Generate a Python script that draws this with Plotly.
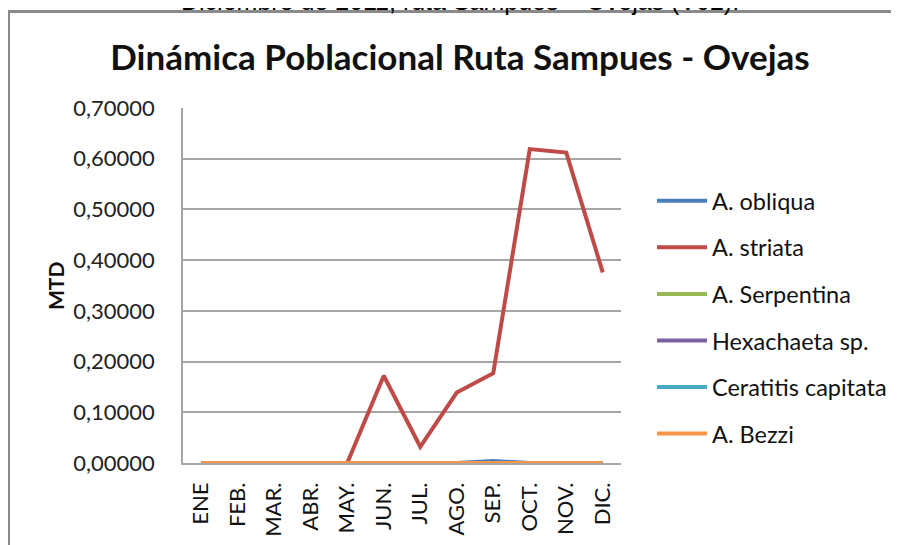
import plotly.graph_objects as go

months = ["ENE", "FEB.", "MAR.", "ABR.", "MAY.", "JUN.", "JUL.", "AGO.", "SEP.", "OCT.", "NOV.", "DIC."]
a_obliqua = [0, 0, 0, 0, 0, 0, 0, 0, 0.004, 0, 0, 0]
a_striata = [0, 0, 0, 0, 0, 0.172, 0.032, 0.139, 0.177, 0.619, 0.612, 0.376]
a_serpentina = [0, 0, 0, 0, 0, 0, 0, 0, 0, 0, 0, 0]
hexachaeta = [0, 0, 0, 0, 0, 0, 0, 0, 0, 0, 0, 0]
ceratitis = [0, 0, 0, 0, 0, 0, 0, 0, 0, 0, 0, 0]
a_bezzi = [0, 0, 0, 0, 0, 0, 0, 0, 0, 0, 0, 0]

series = [
    ("A. obliqua", a_obliqua, "#4a7ebb"),
    ("A. striata", a_striata, "#be4b48"),
    ("A. Serpentina", a_serpentina, "#98b954"),
    ("Hexachaeta sp.", hexachaeta, "#7d60a0"),
    ("Ceratitis capitata", ceratitis, "#46aac5"),
    ("A. Bezzi", a_bezzi, "#f79646"),
]

W, H = 899, 545
OFF = 8  # page body margin
# plot area on screen: x 183..621, y 108..463
L = 183 - OFF
T = 108 - OFF
pw, ph = 438, 355
R = W - L - pw
B = H - T - ph

def sx(x):
    return (x - OFF - L) / pw

def sy(y):
    return (T + ph - (y - OFF)) / ph

fig = go.Figure()
for i, (name, vals, col) in enumerate(series):
    fig.add_trace(go.Scatter(
        x=months, y=vals, mode="lines", name=name,
        line=dict(color=col, width=4), legendgroup=f"g{i}",
    ))

font_family = "Lato, Carlito, Calibri, sans-serif"

fig.update_layout(
    width=W, height=H,
    margin=dict(l=L, r=R, t=T, b=B, autoexpand=False),
    paper_bgcolor="white", plot_bgcolor="white",
    separators=",.",
    font=dict(family=font_family, color="#222222"),
    title=dict(
        text="<b>Dinámica Poblacional Ruta Sampues - Ovejas</b>",
        x=(460 - OFF) / W, xanchor="center", y=1 - (58 - OFF) / H, yanchor="middle",
        font=dict(size=35, family=font_family, color="#111111"),
    ),
    xaxis=dict(
        type="category", range=[-0.5, 11.5],
        showgrid=False, showline=True, linecolor="#a6a6a6", linewidth=1.5,
        ticks="", tickangle=-90, tickfont=dict(size=22, family=font_family, color="#111111"),
        ticklabelstandoff=9,
    ),
    yaxis=dict(
        range=[0, 0.7], tickvals=[0, 0.1, 0.2, 0.3, 0.4, 0.5, 0.6, 0.7],
        tickformat=".5f", showgrid=True, gridcolor="#a6a6a6", gridwidth=1.5,
        showline=True, linecolor="#a6a6a6", linewidth=1.5,
        zeroline=False, ticks="", tickfont=dict(size=22, family=font_family, color="#222222"),
        ticklabelstandoff=22,
    ),
    legend=dict(
        x=sx(652), xanchor="left", y=sy(179), yanchor="top",
        font=dict(size=23.5, family=font_family, color="#111111"),
        tracegroupgap=13, bgcolor="rgba(0,0,0,0)", itemwidth=50,
    ),
    showlegend=True,
)

fig.add_annotation(
    text="<b>MTD</b>", xref="paper", yref="paper", x=sx(55), y=sy(286),
    xanchor="center", yanchor="middle", textangle=-90, showarrow=False,
    font=dict(size=21, family=font_family, color="#111111"),
)

fig.add_annotation(
    text="Diciembre de 2011, ruta Sampues – Ovejas (V02).",
    xref="paper", yref="paper", x=sx(460), y=sy(1.3), xanchor="center", yanchor="middle",
    showarrow=False, font=dict(size=25, family="Liberation Sans, Arial, sans-serif", color="#000000"),
)

fig.add_shape(
    type="rect", xref="paper", yref="paper",
    x0=sx(8.5), x1=sx(930), y0=sy(580), y1=sy(11.5),
    line=dict(color="#8a8a8a", width=3), fillcolor="rgba(0,0,0,0)", layer="above",
)

fig.write_html("out.html")
